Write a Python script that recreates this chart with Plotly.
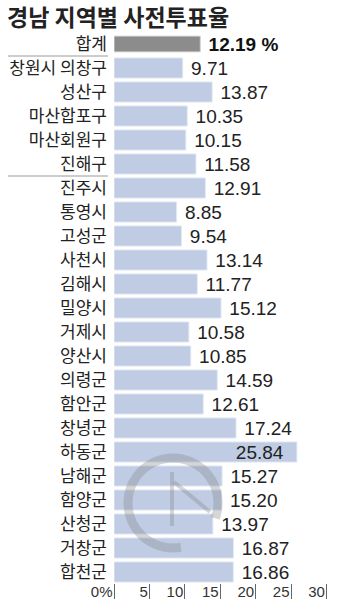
import math
import plotly.graph_objects as go

title = "경남 지역별 사전투표율"
total_label = "합계"
total_value = 12.19
regions = ["창원시 의창구", "성산구", "마산합포구", "마산회원구", "진해구",
           "진주시", "통영시", "고성군", "사천시", "김해시", "밀양시", "거제시",
           "양산시", "의령군", "함안군", "창녕군", "하동군", "남해군", "함양군",
           "산청군", "거창군", "합천군"]
values = [9.71, 13.87, 10.35, 10.15, 11.58, 12.91, 8.85, 9.54, 13.14, 11.77,
          15.12, 10.58, 10.85, 14.59, 12.61, 17.24, 25.84, 15.27, 15.20, 13.97,
          16.87, 16.86]
tick_vals = [0, 5, 10, 15, 20, 25, 30]
tick_text = ["0%", "5", "10", "15", "20", "25", "30"]

cats = [total_label] + regions
LABEL_FONT = "Noto Sans CJK KR"
NUM_FONT = "Liberation Sans"

L, W = 114, 216
TOP, BOT = 32, 583
H = BOT - TOP

def px_x(px):
    return (px - L) / W

def px_y(py):
    return (BOT - py) / H

fig = go.Figure()

# total bar
fig.add_trace(go.Bar(
    y=[total_label], x=[total_value], orientation="h",
    marker=dict(color="#8c8c8c", line=dict(color="#d8d8d8", width=1)),
    width=0.66,
    text=[f" <b>{total_value:.2f} %</b>"], textposition="outside",
    constraintext="none",
    textfont=dict(family=NUM_FONT, size=19, color="#111"),
    cliponaxis=False, hoverinfo="skip",
))

# regional bars
positions = ["inside" if v > 22 else "outside" for v in values]
texts = [f"{v:.2f}  " if v > 22 else f" {v:.2f}" for v in values]
fig.add_trace(go.Bar(
    y=regions, x=values, orientation="h",
    marker=dict(color="#bfcce4", line=dict(color="#e4eaf4", width=1)),
    width=0.84,
    text=texts, textposition=positions, insidetextanchor="end",
    constraintext="none",
    textfont=dict(family=NUM_FONT, size=19, color="#222"),
    insidetextfont=dict(family=NUM_FONT, size=19, color="#222"),
    outsidetextfont=dict(family=NUM_FONT, size=19, color="#222"),
    cliponaxis=False, hoverinfo="skip",
))

shapes = []
for yv in [0.5, 5.5]:
    shapes.append(dict(type="line", xref="paper", yref="y",
                       x0=px_x(8), x1=px_x(108), y0=yv, y1=yv,
                       line=dict(color="#9a9a9a", width=1)))

# faint watermark logo (decoration)
cx, cy, r = 173, 503, 45
pts = []
for i in range(0, 61):
    a = math.radians(80 + i * (300 / 60))
    pts.append((cx + r * math.cos(a), cy + r * math.sin(a)))
ring = "M " + " L ".join(f"{px_x(x):.4f},{px_y(y):.4f}" for x, y in pts)
wm = "rgba(130,130,130,0.33)"
shapes.append(dict(type="path", xref="paper", yref="paper", path=ring,
                   line=dict(color=wm, width=9), layer="above"))
shapes.append(dict(type="line", xref="paper", yref="paper",
                   x0=px_x(172), x1=px_x(172), y0=px_y(472), y1=px_y(526),
                   line=dict(color=wm, width=4), layer="above"))
shapes.append(dict(type="line", xref="paper", yref="paper",
                   x0=px_x(174), x1=px_x(210), y0=px_y(482), y1=px_y(512),
                   line=dict(color=wm, width=4), layer="above"))

fig.add_annotation(text=f"<b>{title}</b>", xref="paper", yref="paper",
                   x=px_x(6), y=px_y(-2), xanchor="left", yanchor="top",
                   showarrow=False, borderpad=0,
                   font=dict(family=LABEL_FONT, size=23, color="#222"))

fig.update_layout(
    width=340, height=600,
    margin=dict(l=L, r=340 - L - W, t=TOP, b=600 - BOT, autoexpand=False),
    paper_bgcolor="white", plot_bgcolor="white",
    showlegend=False, barmode="overlay",
    shapes=shapes,
    xaxis=dict(range=[0, W / 7.08], tickvals=tick_vals, ticktext=tick_text,
               ticks="outside", ticklen=15, tickcolor="#666", tickwidth=1,
               ticklabelposition="outside left", ticklabelstandoff=-5,
               ticklabelshift=-1, automargin=False,
               tickfont=dict(family=NUM_FONT, size=15, color="#333"),
               showgrid=False, zeroline=False, showline=False, fixedrange=True),
    yaxis=dict(categoryorder="array", categoryarray=cats,
               range=[len(cats) - 1 + 11 / 24, -0.5], automargin=False,
               ticks="", ticklabelstandoff=6,
               tickfont=dict(family=LABEL_FONT, size=17, color="#222"),
               showgrid=False, zeroline=False, showline=False, fixedrange=True),
)

fig.write_html("out.html")
